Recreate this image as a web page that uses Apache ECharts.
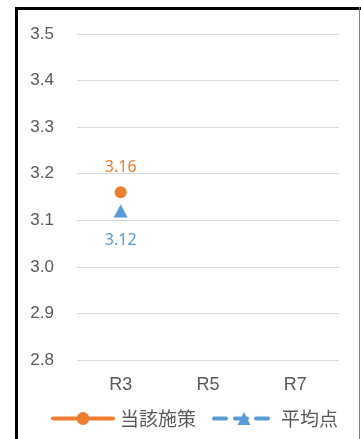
<!DOCTYPE html>
<html><head><meta charset="utf-8">
<script src="https://cdn.jsdelivr.net/npm/echarts@6/dist/echarts.min.js"></script>
<style>html,body{margin:0;padding:0;background:#fff}#c{width:361px;height:439px}</style>
</head><body><div id="c"></div>
<script>
var categories = ['R3', 'R5', 'R7'];
var seriesNames = ['当該施策', '平均点'];
var policyValues = [3.16, null, null];
var averageValues = [3.12, null, null];
var yTicks = { min: 2.8, max: 3.5, interval: 0.1 };

var chart = echarts.init(document.getElementById('c'), null, { renderer: 'canvas' });
var font = '"Liberation Sans", Arial, sans-serif';
var lfont = '"Noto Sans", sans-serif';
var jfont = '"Noto Sans CJK JP", sans-serif';
chart.setOption({
  animation: false,
  backgroundColor: '#fff',
  grid: { left: 77, right: 22, top: 34, bottom: 79, containLabel: false },
  xAxis: {
    type: 'category', data: categories, boundaryGap: true,
    axisLine: { show: false }, axisTick: { show: false },
    axisLabel: { color: '#595959', fontSize: 18, fontFamily: font, margin: 16 }
  },
  yAxis: {
    type: 'value', min: yTicks.min, max: yTicks.max, interval: yTicks.interval,
    axisLine: { show: false }, axisTick: { show: false },
    splitLine: { lineStyle: { color: '#d9d9d9', width: 1 } },
    axisLabel: { color: '#595959', fontSize: 17, fontFamily: font, margin: 23, align: 'right',
      formatter: function (v) { return v.toFixed(1); } }
  },
  legend: {
    bottom: 6, left: 46, itemWidth: 60, itemHeight: 16, itemGap: 16,
    textStyle: { color: '#595959', fontSize: 19, fontFamily: jfont, padding: [0, 0, 0, 2] },
    lineStyle: { width: 4, cap: 'round' },
    data: seriesNames
  },
  series: [
    {
      name: seriesNames[0], type: 'line', data: policyValues,
      symbol: 'circle', symbolSize: 12, connectNulls: false,
      itemStyle: { color: '#ED7D31' },
      lineStyle: { color: '#ED7D31', width: 4, cap: 'round' },
      label: { show: true, position: 'top', distance: 11, color: '#ED7D31', fontSize: 16, fontFamily: lfont }
    },
    {
      name: seriesNames[1], type: 'line', data: averageValues,
      symbol: 'triangle', symbolSize: [14, 13], connectNulls: false,
      itemStyle: { color: '#5B9BD5' },
      lineStyle: { color: '#5B9BD5', width: 4, type: [12, 9], cap: 'round' },
      label: { show: true, position: 'bottom', distance: 15, color: '#5B9BD5', fontSize: 16, fontFamily: lfont }
    }
  ],
  graphic: [
    { type: 'rect', shape: { x: 15, y: 7, width: 3, height: 432 }, style: { fill: '#000' }, silent: true },
    { type: 'rect', shape: { x: 15, y: 7, width: 346, height: 3 }, style: { fill: '#000' }, silent: true },
    { type: 'rect', shape: { x: 359, y: 7, width: 1, height: 432 }, style: { fill: '#7f7f7f' }, silent: true }
  ]
});
</script></body></html>
